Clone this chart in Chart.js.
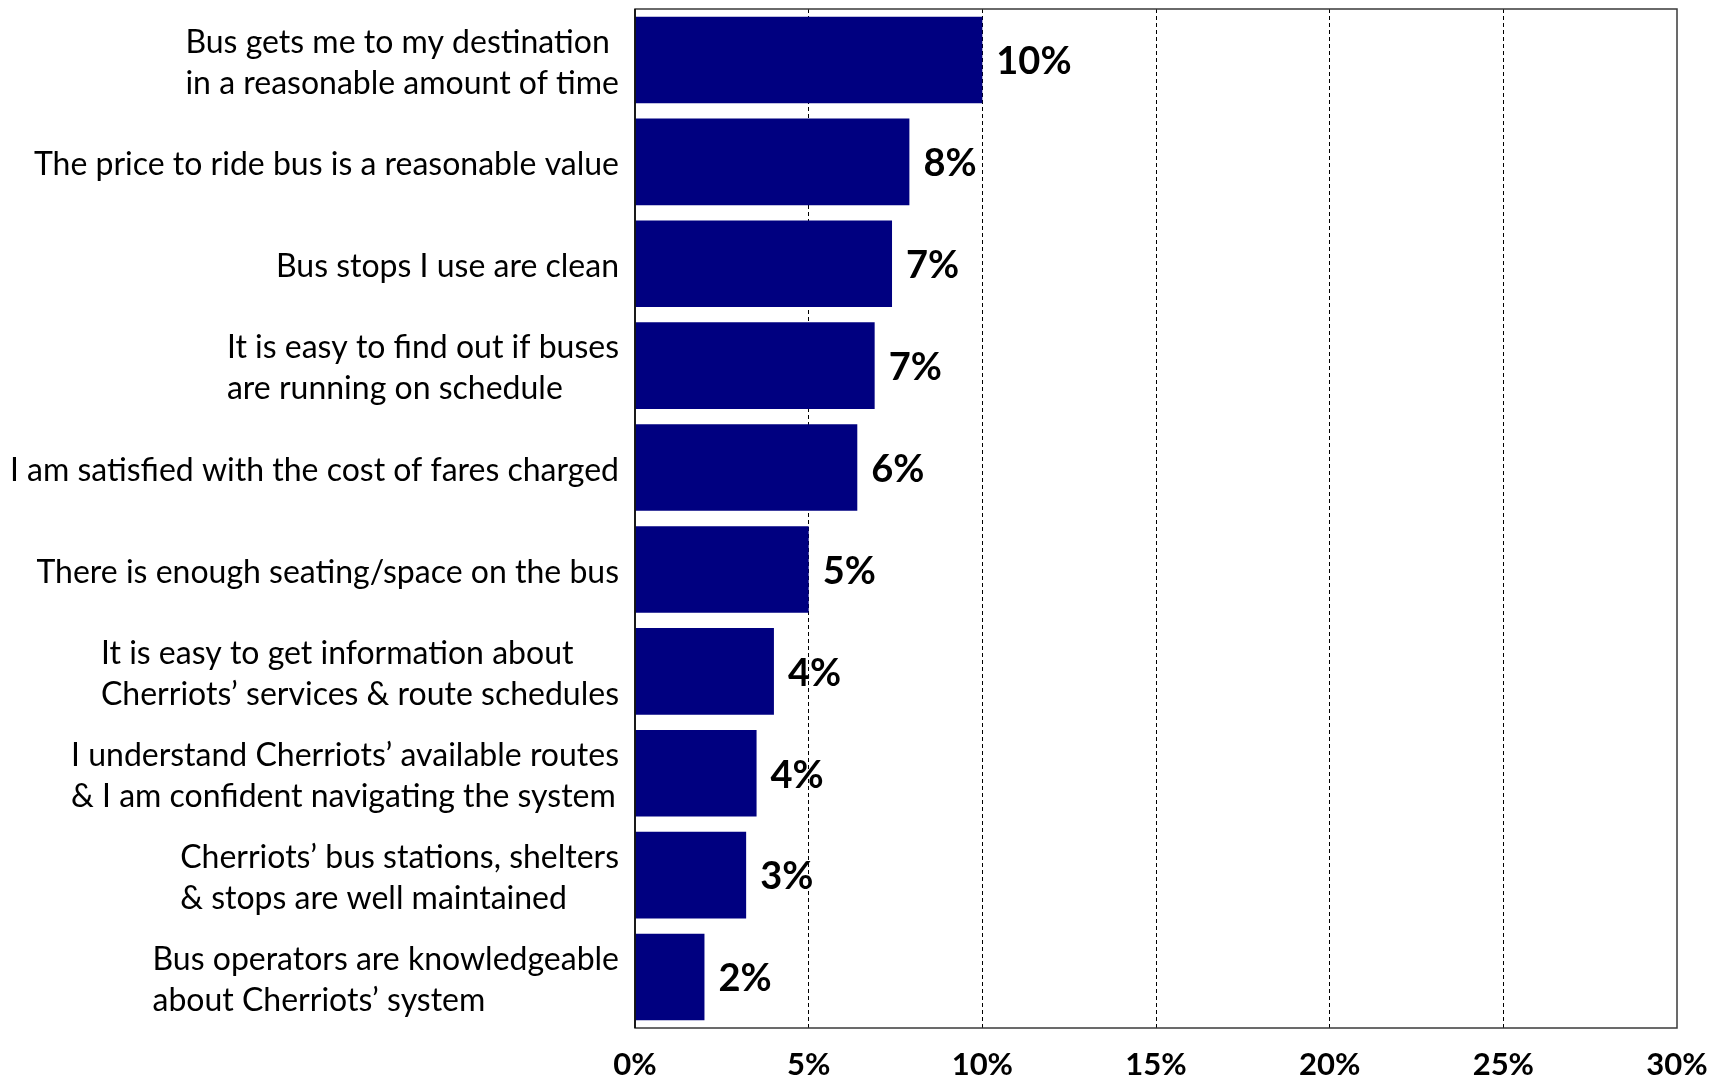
<!DOCTYPE html>
<html>
<head>
<meta charset="utf-8">
<script src="https://cdn.jsdelivr.net/npm/chart.js@4/dist/chart.umd.min.js"></script>
<style>
  html, body { margin: 0; padding: 0; background: #fff; }
  #satisfaction { display: block; }
</style>
</head>
<body>
<canvas id="satisfaction" width="1715" height="1080"></canvas>
<script>
// Statements, one array per label (each entry is a drawn line)
const statements = [
  ['Bus gets me to my destination', 'in a reasonable amount of time'],
  ['The price to ride bus is a reasonable value'],
  ['Bus stops I use are clean'],
  ['It is easy to find out if buses', 'are running on schedule'],
  ['I am satisfied with the cost of fares charged'],
  ['There is enough seating/space on the bus'],
  ['It is easy to get information about', 'Cherriots\u2019 services & route schedules'],
  ['I understand Cherriots\u2019 available routes', '& I am confident navigating the system'],
  ['Cherriots\u2019 bus stations, shelters', '& stops are well maintained'],
  ['Bus operators are knowledgeable', 'about Cherriots\u2019 system']
];

// Share of riders (%)
const shares = [10.0, 7.9, 7.4, 6.9, 6.4, 5.0, 4.0, 3.5, 3.2, 2.0];

// x axis ticks (%)
const xMin = 0;
const xMax = 30;
const xStep = 5;

const FONT = 'Lato, "Open Sans", sans-serif';

const labelsPlugin = {
  id: 'labelsPlugin',
  afterDatasetsDraw(chart) {
    const ctx = chart.ctx;
    const area = chart.chartArea;
    const yScale = chart.scales.y;
    const meta = chart.getDatasetMeta(0);

    ctx.save();
    // frame around the plot
    ctx.strokeStyle = '#3a3a3a';
    ctx.lineWidth = 1.5;
    ctx.strokeRect(area.left, area.top, area.right - area.left, area.bottom - area.top);
    ctx.strokeStyle = '#000';
    ctx.beginPath();
    ctx.moveTo(area.left, area.top);
    ctx.lineTo(area.left, area.bottom);
    ctx.stroke();

    // value labels
    ctx.fillStyle = '#000';
    ctx.font = 'bold 38px ' + FONT;
    ctx.textAlign = 'left';
    ctx.textBaseline = 'middle';
    meta.data.forEach((bar, i) => {
      ctx.fillText(Math.round(shares[i]) + '%', bar.x + 14, bar.y + 2);
    });

    // category labels: block right-aligned, lines left-aligned
    ctx.font = '32px ' + FONT;
    const lineH = 41;
    statements.forEach((lines, i) => {
      const y = yScale.getPixelForValue(i);
      const w = Math.max(...lines.map(l => ctx.measureText(l).width));
      const x0 = area.left - 16 - w;
      const top = y + 3 - (lines.length - 1) * lineH / 2;
      lines.forEach((l, k) => ctx.fillText(l, x0, top + k * lineH));
    });
    ctx.restore();
  }
};

new Chart(document.getElementById('satisfaction').getContext('2d'), {
  type: 'bar',
  data: {
    labels: statements.map(s => s.join(' ')),
    datasets: [{
      data: shares,
      backgroundColor: '#000080',
      borderWidth: 0,
      barPercentage: 0.85,
      categoryPercentage: 1
    }]
  },
  options: {
    indexAxis: 'y',
    responsive: false,
    animation: false,
    layout: { padding: { left: 0, right: 38, top: 9, bottom: 0 } },
    plugins: {
      legend: { display: false },
      tooltip: { enabled: false }
    },
    scales: {
      x: {
        min: xMin,
        max: xMax,
        ticks: {
          stepSize: xStep,
          padding: 18,
          color: '#000',
          font: { family: FONT, size: 31, weight: 'bold' },
          callback: v => v + '%'
        },
        grid: {
          drawTicks: false,
          lineWidth: 1,
          color: c => (c.tick && (c.tick.value === xMin || c.tick.value === xMax)) ? 'rgba(0,0,0,0)' : '#000'
        },
        border: { display: false, dash: [4, 3] },
        afterFit: scale => {
          scale.height = 52;
          scale.paddingLeft = 0;
          scale.paddingRight = 0;
        }
      },
      y: {
        ticks: { display: false },
        grid: { display: false },
        border: { display: false },
        afterFit: scale => { scale.width = 635; }
      }
    }
  },
  plugins: [labelsPlugin]
});
</script>
</body>
</html>
